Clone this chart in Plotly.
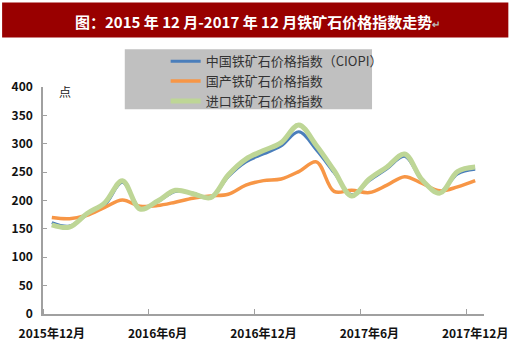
import plotly.graph_objects as go

months = list(range(25))
tick_pos = [0, 6, 12, 18, 24]
tick_text = ["2015年12月", "2016年6月", "2016年12月", "2017年6月", "2017年12月"]

ciopi = [161, 155, 175, 192, 232, 187, 198, 216, 213, 205, 242, 268, 282, 296, 321,
         289, 249, 210, 235, 256, 278, 235, 215, 247, 255]
domestic = [170, 168, 174, 188, 201, 190, 191, 197, 204, 208, 211, 227, 235, 238, 251,
            268, 216, 218, 214, 227, 242, 230, 217, 224, 235]
imported = [157, 153, 177, 196, 235, 185, 199, 218, 212, 205, 245, 273, 288, 302, 333,
            297, 253, 208, 238, 259, 282, 236, 213, 251, 259]

names = ["中国铁矿石价格指数（CIOPI）", "国产铁矿石价格指数", "进口铁矿石价格指数"]
colors = ["#4A7EBB", "#F79646", "rgb(190,214,150)"]
widths = [3, 3.5, 5]

fig = go.Figure()
for vals, nm, c, w in zip([ciopi, domestic, imported], names, colors, widths):
    fig.add_trace(go.Scatter(x=months, y=vals, name=nm, mode="lines",
                             line=dict(color=c, width=w, shape="spline", smoothing=1.0)))

L, R, T, B = 42, 25, 87, 32
W, H = 520, 353
pw, ph = W - L - R, H - T - B

def px(xp):
    return (xp - L) / pw

def py(yp):
    return (H - B - yp) / ph

fig.update_layout(
    width=W, height=H,
    margin=dict(l=L, r=R, t=T, b=B),
    paper_bgcolor="white", plot_bgcolor="white",
    font=dict(family="Noto Sans CJK SC", size=12, color="#222"),
    showlegend=True,
    legend=dict(x=px(168), y=py(45), xanchor="left", yanchor="top",
                bgcolor="rgba(0,0,0,0)", font=dict(size=13, color="#333"),
                itemwidth=30, tracegroupgap=0),
    xaxis=dict(range=[-0.5, 24.5], tickmode="array", tickvals=tick_pos, ticktext=tick_text,
               ticks="", showline=True, linecolor="#A0A0A0", linewidth=1.5,
               showgrid=False, zeroline=False, ticklabelstandoff=8,
               tickfont=dict(size=12, color="#111", family="Noto Sans CJK SC", weight="bold"),
               minor=dict(tickmode="array", tickvals=[-0.5, 5.5, 11.5, 17.5, 23.5],
                          ticks="inside", ticklen=5, tickcolor="#A0A0A0", showgrid=False)),
    yaxis=dict(range=[0, 400], dtick=50, ticks="inside", ticklen=4, tickcolor="#A0A0A0",
               showline=True, linecolor="#A0A0A0", linewidth=1.5, showgrid=False,
               zeroline=False, ticklabelstandoff=6,
               tickfont=dict(size=12, color="#111", family="Noto Sans CJK SC", weight="bold")),
    shapes=[
        dict(type="rect", xref="paper", yref="paper", x0=px(0), x1=px(520), y0=py(36), y1=py(0),
             fillcolor="#990000", line=dict(width=0), layer="below"),
        dict(type="rect", xref="paper", yref="paper", x0=px(126), x1=px(380), y0=py(110), y1=py(48),
             fillcolor="#C0C0C0", line=dict(width=0), layer="below"),
    ],
    annotations=[
        dict(text="图：2015 年 12 月-2017 年 12 月铁矿石价格指数走势<span style='color:#bbbbbb;font-size:10px'>↵</span>",
             xref="paper", yref="paper", x=px(262), y=py(19), xanchor="center", yanchor="middle",
             showarrow=False, font=dict(size=15, color="white", family="Noto Sans CJK SC", weight="bold")),
        dict(text="点", xref="paper", yref="paper", x=px(65), y=py(92), xanchor="center",
             yanchor="middle", showarrow=False, font=dict(size=12, color="#222")),
    ],
)

fig.write_html("out.html")
